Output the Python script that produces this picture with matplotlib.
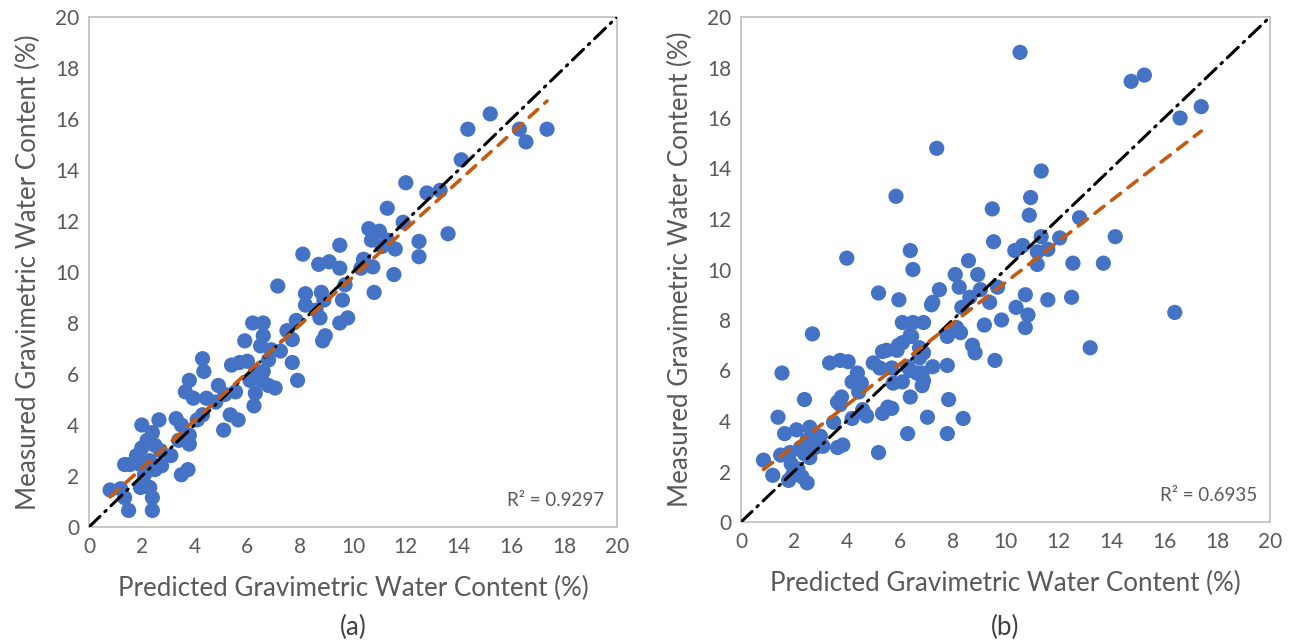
import numpy as np
import matplotlib
matplotlib.use("Agg")
import matplotlib.pyplot as plt

# ---------------- data ----------------
pred_a = [15.2, 14.35, 16.3, 17.35, 16.55, 14.1, 13.3, 12.8, 12.0, 13.6, 11.3, 11.9, 12.5, 12.5,
          10.6, 11.0, 10.7, 11.3, 11.6, 11.1, 10.4, 10.75, 10.3, 11.55, 10.8,
          9.5, 9.1, 8.7, 8.1, 9.5, 9.7, 9.8, 9.5, 8.9, 8.8, 8.2, 8.6, 8.75, 8.85, 8.95, 9.6, 8.2,
          7.15, 7.85, 7.5, 7.7, 7.9, 7.7, 7.25, 6.9, 6.6, 6.2, 6.6, 6.5, 6.8, 6.6, 7.05, 6.3, 6.0,
          5.9, 6.1, 6.3, 6.25, 6.8, 6.55, 5.7, 5.4, 5.55, 5.15, 5.65, 5.35, 5.1,
          4.3, 4.35, 3.8, 3.65, 3.95, 4.45, 4.8, 4.9, 4.3, 4.1, 3.5, 3.3, 3.8, 3.4, 3.8, 3.75, 3.5, 3.1,
          2.65, 2.0, 2.4, 2.2, 2.0, 1.8, 1.55, 1.35, 2.5, 2.7, 2.3, 1.95, 2.1, 2.5, 2.75, 2.3, 1.95,
          2.4, 2.4, 1.5, 1.35, 0.8, 1.2]
meas_a = [16.2, 15.6, 15.6, 15.6, 15.1, 14.4, 13.2, 13.1, 13.5, 11.5, 12.5, 11.95, 11.2, 10.6,
          11.7, 11.6, 11.25, 11.25, 10.9, 11.0, 10.5, 10.2, 10.15, 9.9, 9.2,
          11.05, 10.4, 10.3, 10.7, 10.15, 9.5, 8.2, 8.0, 8.9, 9.2, 9.15, 8.5, 8.2, 7.3, 7.5, 8.9, 8.7,
          9.45, 8.1, 7.7, 7.35, 5.75, 6.45, 6.9, 6.95, 8.0, 8.0, 7.5, 7.1, 6.55, 6.1, 5.45, 6.1, 6.5,
          7.3, 5.75, 5.25, 4.75, 5.55, 5.75, 6.45, 6.35, 5.3, 5.2, 4.2, 4.4, 3.8,
          6.6, 6.1, 5.75, 5.3, 5.05, 5.05, 4.9, 5.55, 4.4, 4.2, 4.0, 4.25, 3.6, 3.4, 3.25, 2.25, 2.05, 2.8,
          4.2, 4.0, 3.7, 3.4, 3.1, 2.8, 2.45, 2.45, 3.2, 3.0, 2.6, 2.45, 2.05, 2.25, 2.4, 1.55, 1.55,
          1.15, 0.65, 0.65, 1.15, 1.45, 1.5]

pred_b = [10.55, 14.75, 15.25, 17.4, 16.6, 7.4, 5.86, 11.35, 10.95, 10.9, 12.8, 9.5, 9.55, 14.15,
          12.05, 11.35, 10.65, 10.35, 11.2, 11.6, 11.2, 12.55, 13.7,
          4.0, 6.4, 6.5, 8.6, 8.95, 8.1, 8.25, 5.2, 5.97, 7.5, 7.25, 8.35, 8.65, 9.05, 9.7, 9.4,
          10.4, 10.75, 9.85, 9.2, 6.1, 6.5, 6.9, 6.4, 8.15, 8.3, 7.8, 8.75, 5.5, 5.95, 6.75, 7.2,
          10.85, 11.6, 12.5, 10.75, 13.2, 16.4, 8.85, 9.6, 7.8, 7.25, 6.75, 6.65, 6.85, 6.1, 6.4,
          7.85, 7.05, 8.4, 6.3, 7.8, 5.25, 5.7, 5.75, 5.7, 5.35, 6.9, 6.3, 6.9, 5.35, 5.9, 6.1, 6.45,
          6.4, 6.85, 5.0, 5.2, 5.55,
          2.7, 1.55, 2.4, 1.4, 0.85, 1.2, 2.5, 1.8, 1.5, 1.65, 2.1, 2.6, 2.25, 1.9, 2.15, 2.6, 2.85,
          2.5, 1.95, 2.3, 2.8, 2.4, 1.85, 3.35, 3.75, 4.05, 4.4, 4.2, 4.55, 4.45, 3.8, 3.65, 3.75,
          4.6, 4.75, 4.2, 3.5, 3.85, 3.65, 3.0, 3.1]
meas_b = [18.6, 17.45, 17.7, 16.45, 16.0, 14.8, 12.9, 13.9, 12.85, 12.15, 12.05, 12.4, 11.1, 11.3,
          11.25, 11.3, 10.95, 10.75, 10.7, 10.8, 10.2, 10.25, 10.25,
          10.45, 10.75, 10.0, 10.35, 9.8, 9.8, 9.3, 9.07, 8.8, 9.2, 8.7, 8.5, 8.9, 9.2, 9.3, 8.7,
          8.5, 9.0, 8.0, 7.8, 7.9, 7.9, 7.9, 7.4, 7.7, 7.5, 7.35, 7.0, 6.8, 7.0, 6.9, 8.6,
          8.2, 8.8, 8.9, 7.7, 6.9, 8.3, 6.7, 6.4, 6.2, 6.15, 6.5, 5.9, 5.4, 5.55, 4.95,
          4.85, 4.15, 4.1, 3.5, 3.5, 6.1, 6.1, 5.5, 4.5, 4.3, 5.6, 6.15, 6.7, 6.75, 6.8, 7.1, 7.35,
          6.0, 5.9, 6.3, 2.75, 4.55,
          7.45, 5.9, 4.85, 4.15, 2.45, 1.85, 1.55, 1.65, 2.65, 3.5, 3.65, 3.75, 2.95, 2.3, 2.1, 2.55, 3.25,
          3.25, 1.85, 1.8, 2.95, 2.7, 2.75, 6.3, 6.4, 6.35, 5.9, 5.55, 5.5, 5.15, 4.95, 4.75, 4.65,
          4.45, 4.2, 4.1, 3.95, 3.05, 2.95, 3.4, 3.0]

# trend lines (slope, intercept) and R^2 labels
fit_a = (0.938, 0.43)
fit_b = (0.81, 1.39)
r2_a = "R² = 0.9297"
r2_b = "R² = 0.6935"
ticks = list(range(0, 21, 2))
panels = ["(a)", "(b)"]
xlabel = "Predicted Gravimetric Water Content (%)"
ylabel = "Measured Gravimetric Water Content (%)"

# ---------------- figure ----------------
plt.rcParams['font.family'] = ['Lato', 'DejaVu Sans']
fig = plt.figure(figsize=(12.98, 6.42), dpi=100)

BLUE = "#4472C4"
ORANGE = "#C55A11"
GRAY_TXT = "#595959"
GRAY_AX = "#BFBFBF"

positions = [[89/1298, 1-527/642, (617-89)/1298, (527-17)/642],
             [741/1298, 1-522/642, (1270-741)/1298, (522-17)/642]]
datasets = [(pred_a, meas_a, fit_a, r2_a), (pred_b, meas_b, fit_b, r2_b)]

for pos, (px, my, fit, r2), tag in zip(positions, datasets, panels):
    ax = fig.add_axes(pos)
    ax.set_xlim(0, 20)
    ax.set_ylim(0, 20)
    # 1:1 line
    ax.plot([0, 20], [0, 20], color="black", lw=2.2,
            dashes=(5, 2.2, 0.6, 2.2), zorder=3, solid_capstyle='round', dash_capstyle='round')
    ax.scatter(px, my, s=120, color=BLUE, edgecolors='none', zorder=2)
    xs = np.array([min(px), max(px)])
    ax.plot(xs, fit[0] * xs + fit[1], color=ORANGE, lw=2.6, dashes=(3.2, 2.6),
            zorder=4, dash_capstyle='round')
    ax.set_xticks(ticks)
    ax.set_yticks(ticks)
    ax.tick_params(length=0, labelsize=15, labelcolor=GRAY_TXT, pad=7)
    for s in ax.spines.values():
        s.set_color(GRAY_AX)
        s.set_linewidth(1.2)
    ax.set_xlabel(xlabel, fontsize=18.7, color=GRAY_TXT, labelpad=14)
    ax.set_ylabel(ylabel, fontsize=18.7, color=GRAY_TXT, labelpad=10)
    ax.text(0.975, 0.035, r2, transform=ax.transAxes, ha='right', va='bottom',
            fontsize=13.5, color=GRAY_TXT)
    cx = pos[0] + pos[2] / 2
    fig.text(cx, 1 - 627/642, tag, ha='center', va='center',
             fontsize=18.7, color="#404040")

fig.savefig("out.png", dpi=100)
